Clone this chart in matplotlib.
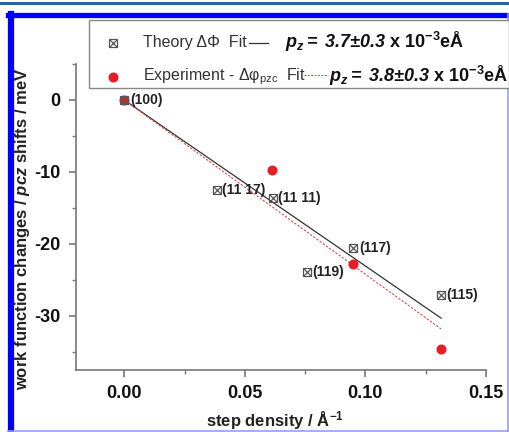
import matplotlib
matplotlib.use("Agg")
import matplotlib.pyplot as plt
from matplotlib.patches import Rectangle
from matplotlib.lines import Line2D

plt.rcParams['font.family'] = ['Liberation Sans', 'DejaVu Sans']
plt.rcParams['mathtext.fontset'] = 'custom'
plt.rcParams['mathtext.rm'] = 'Liberation Sans'
plt.rcParams['mathtext.it'] = 'Liberation Sans:italic'
plt.rcParams['mathtext.bf'] = 'Liberation Sans:bold'
plt.rcParams['mathtext.bfit'] = 'Liberation Sans:italic:bold'

# ---- data ----
theory_x = [0.0, 0.0384, 0.0616, 0.0950, 0.0756, 0.1314]
theory_y = [0.0, -12.5, -13.6, -20.6, -23.9, -27.1]
theory_labels = ["(100)", "(11 17)", "(11 11)", "(117)", "(119)", "(115)"]

exp_x = [0.0, 0.0612, 0.0950, 0.1314]
exp_y = [0.0, -9.7, -22.8, -34.6]

fit_x = [0.0, 0.1314]
theory_fit_y = [0.0, -30.3]
exp_fit_y = [0.0, -31.8]

xticks = [0.00, 0.05, 0.10, 0.15]
yticks = [0, -10, -20, -30]

W, H = 510, 432
fig = plt.figure(figsize=(W / 100, H / 100), dpi=100)
fig.patch.set_facecolor('white')

ax = fig.add_axes([76 / W, 62 / H, 410 / W, 306 / H])
gray = '#555555'
red = '#e31e24'

ax.plot(fit_x, theory_fit_y, color='#333333', lw=0.9, zorder=2)
ax.plot(fit_x, exp_fit_y, color='#d84848', lw=0.8, ls=(0, (2, 1.5)), zorder=2)

ax.plot(exp_x, exp_y, 'o', color=red, ms=6.2, mec=red, zorder=3, ls='none')
ax.plot(theory_x, theory_y, 's', ms=6.2, mfc='none', mec=gray, mew=0.9, ls='none', zorder=4)
ax.plot(theory_x, theory_y, 'x', ms=5.2, mec=gray, mew=0.9, ls='none', zorder=4)

for x, y, lab in zip(theory_x, theory_y, theory_labels):
    ax.annotate(lab, (x, y), xytext=(4, 0), textcoords='offset points',
                ha='left', va='center', fontsize=10, fontweight='bold', color='#222222', zorder=5)

ax.set_xlim(-0.02, 0.15)
ax.set_ylim(-37.5, 5)
ax.set_xticks(xticks)
ax.set_xticklabels([f"{v:.2f}" for v in xticks])
ax.set_yticks(yticks)
ax.set_yticklabels([f"{v}" for v in yticks])
ax.set_xticks([0.025, 0.075, 0.125], minor=True)
ax.set_yticks([5, -5, -15, -25, -35], minor=True)

for s in ['top', 'right']:
    ax.spines[s].set_visible(False)
for s in ['left', 'bottom']:
    ax.spines[s].set_color('#777777')
    ax.spines[s].set_linewidth(1.2)
ax.tick_params(which='major', length=5, width=1.2, color='#777777', labelsize=13, pad=6)
ax.tick_params(which='minor', length=3, width=1.0, color='#777777')
for lbl in ax.get_xticklabels() + ax.get_yticklabels():
    lbl.set_fontweight('bold')
    lbl.set_color('#111111')

ax.set_xlabel(r"step density / Å$^{\mathbf{-1}}$", fontsize=12, fontweight='bold', color='#222222')
ax.set_ylabel(r"work function changes / $\mathbfit{pcz}$ shifts / meV", fontsize=12,
              fontweight='bold', color='#222222')
ax.xaxis.set_label_coords(0.485, -0.128)
ax.yaxis.set_label_coords(-0.108, 0.46)

# ---- legend box (manual) ----
def fx(px):
    return px / W

def fy(py):
    return 1 - py / H

fig.add_artist(Rectangle((fx(89), fy(88)), fx(509) - fx(89), fy(20) - fy(88),
                         transform=fig.transFigure, facecolor='white', edgecolor='#888888', lw=1.0, zorder=10))
# row 1
fig.add_artist(Line2D([fx(113)], [fy(43)], marker='s', ms=6.2, mfc='none', mec=gray, mew=0.9,
                      transform=fig.transFigure, zorder=11))
fig.add_artist(Line2D([fx(113)], [fy(43)], marker='x', ms=5.2, mec=gray, mew=0.9,
                      transform=fig.transFigure, zorder=11))
fig.text(fx(143), fy(43), "Theory ΔΦ  Fit", fontsize=11.5, color='#333333', ha='left', va='center', zorder=11)
fig.add_artist(Line2D([fx(249), fx(268)], [fy(43), fy(43)], color='#333333', lw=0.9,
                      transform=fig.transFigure, zorder=11))
fig.text(fx(285), fy(42), r"$\mathbfit{p}_{\mathbfit{z}}\mathbfit{=\ 3.7±0.3}\ \mathbf{x\ 10^{-3}eÅ}$",
         fontsize=13, color='#111111', ha='left', va='center', zorder=11)
# row 2
fig.add_artist(Line2D([fx(113)], [fy(77)], marker='o', ms=6.2, color=red,
                      transform=fig.transFigure, zorder=11))
fig.text(fx(143), fy(77), r"Experiment - Δφ$_{\mathrm{pzc}}$  Fit", fontsize=11.5, color='#333333',
         ha='left', va='center', zorder=11)
fig.add_artist(Line2D([fx(304), fx(328)], [fy(75), fy(75)], color='#d84848', lw=0.7, ls=(0, (2, 1.5)),
                      transform=fig.transFigure, zorder=11))
fig.text(fx(329), fy(76), r"$\mathbfit{p}_{\mathbfit{z}}\mathbfit{=\ 3.8±0.3}\ \mathbf{x\ 10^{-3}eÅ}$",
         fontsize=13, color='#111111', ha='left', va='center', zorder=11)

# ---- page frame ----
fig.add_artist(Line2D([0, 1], [fy(2.5), fy(2.5)], color='#2a62a8', lw=2.2, transform=fig.transFigure))
fig.add_artist(Line2D([fx(11), fx(11)], [fy(14), fy(431)], color='#0000ff', lw=4.5, transform=fig.transFigure))
fig.add_artist(Line2D([fx(8), fx(510)], [fy(14.5), fy(14.5)], color='#0000ff', lw=3.8, transform=fig.transFigure))
fig.add_artist(Line2D([fx(508.5), fx(508.5)], [fy(14), fy(431)], color='#9c9cf0', lw=1.2, transform=fig.transFigure))
fig.add_artist(Line2D([fx(8), fx(510)], [fy(430.5), fy(430.5)], color='#9c9cf0', lw=1.2, transform=fig.transFigure))

fig.savefig("out.png", dpi=100)
